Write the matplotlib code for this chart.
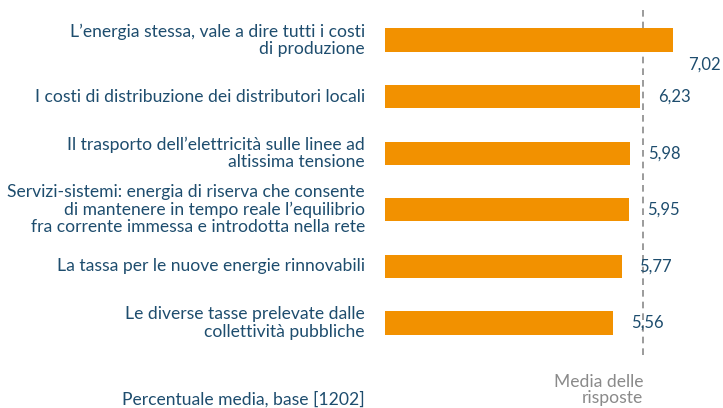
import matplotlib.pyplot as plt

# Data
labels = [
    "L\u2019energia stessa, vale a dire tutti i costi\ndi produzione",
    "I costi di distribuzione dei distributori locali",
    "Il trasporto dell\u2019elettricit\u00e0 sulle linee ad\naltissima tensione",
    "Servizi-sistemi: energia di riserva che consente\ndi mantenere in tempo reale l\u2019equilibrio\nfra corrente immessa e introdotta nella rete",
    "La tassa per le nuove energie rinnovabili",
    "Le diverse tasse prelevate dalle\ncollettivit\u00e0 pubbliche",
]
values = [7.02, 6.23, 5.98, 5.95, 5.77, 5.56]
value_labels = ["7,02", "6,23", "5,98", "5,95", "5,77", "5,56"]
mean_line = 6.3

orange = "#F29100"
blue = "#1E4D6E"
grey = "#8A8A8A"
fs = 12.6

plt.rcParams['font.family'] = ['Lato', 'DejaVu Sans']

fig = plt.figure(figsize=(7.23, 4.08), dpi=100)
ax = fig.add_axes([385 / 723, 0, 338 / 723, 1])
ax.set_xlim(0, 338 / 41)
ax.set_ylim(6.50, -0.707)
ax.axis('off')

y = list(range(len(values)))
ax.barh(y, values, height=0.41, color=orange, zorder=2)

# dashed mean line
ax.plot([mean_line, mean_line], [-0.53, 5.57], color=grey, lw=1.2,
        linestyle=(0, (4, 3)), zorder=1)

# category labels on the left
for i, lab in enumerate(labels):
    ax.annotate(lab, xy=(0, i), xytext=(-20, 0), textcoords='offset pixels',
                ha='right', va='center', color=blue, fontsize=fs,
                linespacing=1.1, annotation_clip=False)

# value labels (first one sits below its bar)
for i, (v, t) in enumerate(zip(values, value_labels)):
    dx, dy = (15, -25) if i == 0 else (18, 0)
    ax.annotate(t, xy=(v, i), xytext=(dx, dy), textcoords='offset pixels',
                ha='left', va='center', color=blue, fontsize=12)

ax.annotate("Media delle\nrisposte", xy=(mean_line, 5.57), xytext=(0, -19),
            textcoords='offset pixels', ha='right', va='top', color=grey,
            fontsize=fs, linespacing=1.0, annotation_clip=False)

ax.annotate("Percentuale media, base [1202]", xy=(0, 6.35), xytext=(-20, 0),
            textcoords='offset pixels', ha='right', va='center', color=blue,
            fontsize=fs, annotation_clip=False)

plt.savefig('out.png', dpi=100)
